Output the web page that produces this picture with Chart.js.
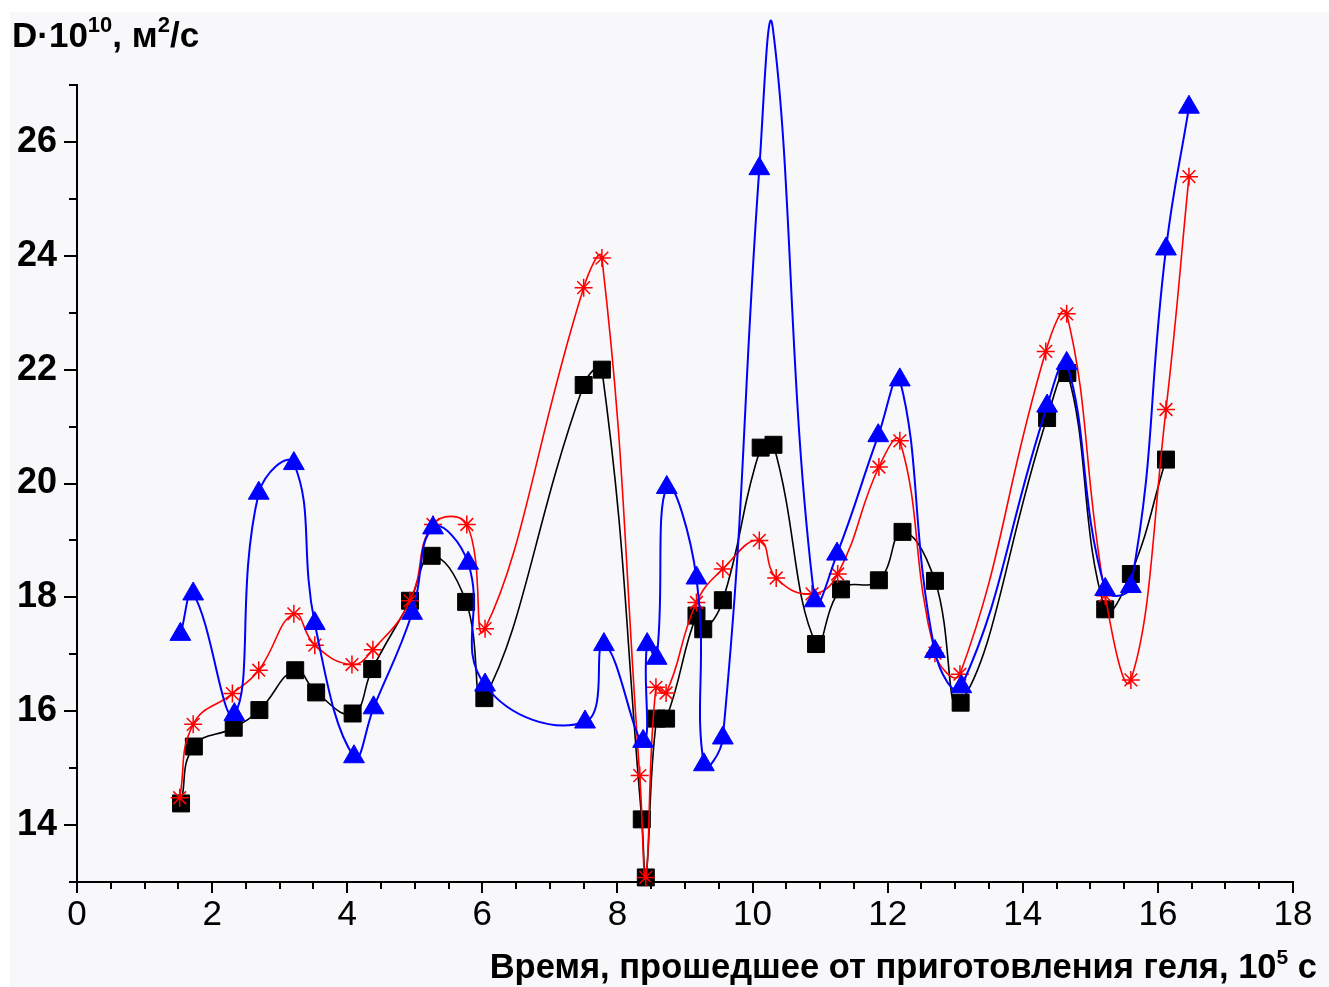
<!DOCTYPE html>
<html>
<head>
<meta charset="utf-8">
<script src="https://cdn.jsdelivr.net/npm/chart.js@4.4.1/dist/chart.umd.min.js"></script>
<style>
  html, body { margin: 0; padding: 0; background: #fff; }
  canvas { display: block; }
</style>
</head>
<body>
<canvas id="diffChart" width="1329" height="987"></canvas>
<script>
// Time since gel preparation, 10^5 s  /  D*10^10, m^2/s
const timeBlack = [1.54, 1.73, 2.32, 2.70, 3.23, 3.54, 4.08, 4.37, 4.93, 5.25, 5.76, 6.03, 7.50, 7.77, 8.36, 8.42, 8.58, 8.72, 9.17, 9.27, 9.56, 10.12, 10.31, 10.94, 11.31, 11.87, 12.22, 12.70, 13.08, 14.36, 14.66, 15.22, 15.60, 16.12];
const dBlack    = [14.38, 15.38, 15.71, 16.02, 16.72, 16.33, 15.96, 16.74, 17.94, 18.73, 17.92, 16.23, 21.73, 22.0, 14.1, 13.08, 15.87, 15.87, 17.68, 17.44, 17.95, 20.63, 20.68, 17.18, 18.14, 18.3, 19.15, 18.29, 16.15, 21.15, 21.94, 17.79, 18.41, 20.42];

const timeRed = [1.52, 1.72, 2.30, 2.69, 3.21, 3.52, 4.07, 4.38, 4.93, 5.27, 5.77, 6.04, 7.50, 7.77, 8.33, 8.42, 8.57, 8.72, 9.17, 9.56, 10.10, 10.35, 10.88, 11.26, 11.87, 12.18, 12.70, 13.07, 14.34, 14.65, 15.22, 15.60, 16.12, 16.46];
const dRed    = [14.48, 15.77, 16.31, 16.72, 17.71, 17.16, 16.82, 17.08, 17.94, 19.28, 19.28, 17.45, 23.44, 23.96, 14.87, 13.08, 16.42, 16.32, 17.91, 18.5, 19.0, 18.34, 18.06, 18.41, 20.29, 20.75, 17.02, 16.65, 22.32, 22.98, 18.03, 16.55, 21.3, 25.39];

const timeBlue = [1.53, 1.72, 2.33, 2.69, 3.21, 3.52, 4.10, 4.39, 4.96, 5.27, 5.79, 6.04, 7.52, 7.80, 8.38, 8.44, 8.58, 8.73, 9.17, 9.28, 9.56, 10.10, 10.30, 10.92, 11.25, 11.86, 12.18, 12.70, 13.09, 14.36, 14.65, 15.22, 15.60, 16.12, 16.46];
const dBlue    = [17.35, 18.06, 15.94, 19.83, 20.35, 17.54, 15.2, 16.06, 17.72, 19.22, 18.6, 16.46, 15.81, 17.17, 15.47, 17.17, 16.93, 19.93, 18.34, 15.06, 15.53, 25.53, 28.0, 17.94, 18.76, 20.84, 21.82, 17.05, 16.43, 21.36, 22.11, 18.14, 18.19, 24.12, 26.61];

const xMajorTicks = [0, 2, 4, 6, 8, 10, 12, 14, 16, 18];
const yMajorTicks = [14, 16, 18, 20, 22, 24, 26];

const yTitle = [{ t: 'D·10' }, { t: '10', sup: true }, { t: ', м' }, { t: '2', sup: true }, { t: '/с' }];
const xTitle = [{ t: 'Время, прошедшее от приготовления геля, 10' }, { t: '5', sup: true }, { t: ' с' }];

const SANS = '"Liberation Sans", Arial, sans-serif';

const toPoints = (xs, ys) => xs.map((x, i) => ({ x, y: ys[i] }));

// text with superscript parts
function drawRich(ctx, parts, x, baseline, align, size, weight) {
  const supSize = Math.round(size * 0.62);
  const fontOf = p => `${weight} ${p.sup ? supSize : size}px ${SANS}`;
  let total = 0;
  parts.forEach(p => { ctx.font = fontOf(p); total += ctx.measureText(p.t).width; });
  let cx = align === 'right' ? x - total : x;
  ctx.textAlign = 'left';
  ctx.textBaseline = 'alphabetic';
  parts.forEach(p => {
    ctx.font = fontOf(p);
    ctx.fillText(p.t, cx, p.sup ? baseline - size * 0.42 : baseline);
    cx += ctx.measureText(p.t).width;
  });
}

const decor = {
  id: 'decor',
  beforeDraw(chart) {
    const ctx = chart.ctx;
    ctx.save();
    ctx.fillStyle = '#ffffff';
    ctx.fillRect(0, 0, chart.width, chart.height);
    ctx.fillStyle = '#f8f7fa';
    ctx.fillRect(10, 12, chart.width - 10, chart.height - 12);
    ctx.restore();
  },
  afterDraw(chart) {
    const { ctx, scales: { x, y } } = chart;
    ctx.save();
    ctx.strokeStyle = '#000';
    ctx.lineWidth = 2;
    ctx.beginPath();
    x.ticks.forEach(tk => {
      const px = Math.round(x.getPixelForValue(tk.value));
      const len = xMajorTicks.includes(tk.value) ? 11 : 7;
      ctx.moveTo(px, x.top); ctx.lineTo(px, x.top + len);
    });
    y.ticks.forEach(tk => {
      const py = Math.round(y.getPixelForValue(tk.value));
      const len = yMajorTicks.includes(tk.value) ? 13 : 8;
      ctx.moveTo(y.right, py); ctx.lineTo(y.right - len, py);
    });
    ctx.stroke();
    ctx.fillStyle = '#000';
    drawRich(ctx, yTitle, 12, 47, 'left', 35, 'bold');
    drawRich(ctx, xTitle, 1317, 978, 'right', 34.5, 'bold');
    ctx.restore();
  }
};

new Chart(document.getElementById('diffChart'), {
  type: 'line',
  data: {
    datasets: [
      {
        data: toPoints(timeBlue, dBlue),
        borderColor: '#0000ff',
        backgroundColor: '#0000ff',
        borderWidth: 2,
        pointStyle: 'triangle',
        pointRadius: 12,
        pointBorderWidth: 1,
        clip: false
      },
      {
        data: toPoints(timeRed, dRed),
        borderColor: '#ff0000',
        backgroundColor: '#ff0000',
        borderWidth: 1.6,
        pointStyle: 'star',
        pointRadius: 9,
        pointBorderWidth: 1.5,
        clip: false
      },
      {
        data: toPoints(timeBlack, dBlack),
        borderColor: '#000000',
        backgroundColor: '#000000',
        borderWidth: 1.6,
        pointStyle: 'rect',
        pointRadius: 12,
        pointBorderWidth: 1,
        clip: false
      }
    ]
  },
  options: {
    responsive: false,
    animation: false,
    devicePixelRatio: 1,
    layout: { padding: { left: 10, top: 85, right: 36, bottom: 0 } },
    elements: { line: { tension: 0.45, capBezierPoints: false, fill: false } },
    plugins: { legend: { display: false }, tooltip: { enabled: false } },
    scales: {
      x: {
        type: 'linear',
        min: 0,
        max: 18,
        afterFit(scale) { scale.height = 105; },
        border: { display: true, color: '#000', width: 2 },
        grid: { display: true, drawOnChartArea: false, color: 'transparent', tickLength: 11 },
        ticks: {
          stepSize: 0.5,
          autoSkip: false,
          maxRotation: 0,
          padding: 1,
          color: '#000',
          font: { family: SANS, size: 35 },
          callback: v => xMajorTicks.includes(v) ? String(v) : ''
        }
      },
      y: {
        type: 'linear',
        min: 13,
        max: 27,
        afterFit(scale) { scale.width = 67; },
        border: { display: true, color: '#000', width: 2 },
        grid: { display: true, drawOnChartArea: false, color: 'transparent', tickLength: 13 },
        ticks: {
          stepSize: 1,
          autoSkip: false,
          padding: 7,
          color: '#000',
          font: { family: SANS, size: 36, weight: 'bold' },
          callback: v => yMajorTicks.includes(v) ? String(v) : ''
        }
      }
    }
  },
  plugins: [decor]
});
</script>
</body>
</html>
